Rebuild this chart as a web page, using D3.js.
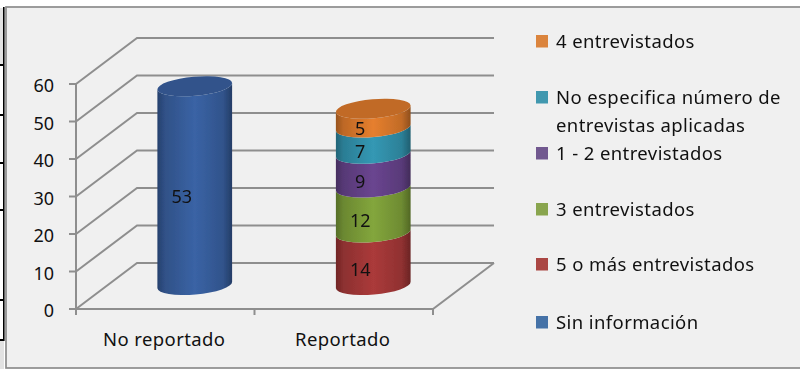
<!DOCTYPE html>
<html lang="es">
<head>
<meta charset="utf-8">
<style>
  html, body { margin: 0; padding: 0; background: #fff; }
  svg { display: block; }
  text { font-family: "Noto Sans", sans-serif; fill: #111; }
  .spaced { letter-spacing: 0.4px; }
</style>
</head>
<body>
<svg id="chart" width="800" height="369"></svg>
<script src="https://cdn.jsdelivr.net/npm/d3@7/dist/d3.min.js"></script>
<script>
// Interview counts reported per category, stacked bottom to top
const categories = ["No reportado", "Reportado"];
const seriesNames = ["Sin información", "5 o más entrevistados", "3 entrevistados",
                     "1 - 2 entrevistados", "No especifica número de\nentrevistas aplicadas", "4 entrevistados"];
const sinInformacion = [53, 0];
const cincoOMas = [0, 14];
const tres = [0, 12];
const unoDos = [0, 9];
const noEspecifica = [0, 7];
const cuatro = [0, 5];
const yTicks = [0, 10, 20, 30, 40, 50, 60];
const seriesColors = ["#4572a7", "#aa4643", "#89a54e", "#71588f", "#4198af", "#db843d"];
const sideColors = ["#3a63a5", "#ab3a3a", "#83a63c", "#6a4590", "#3498b4", "#e67f2e"];
const legendRows = [316, 258, 203, 147, 91, 35];
const ruleMarks = [65, 115, 163, 210, 300, 340];

const allSeries = [sinInformacion, cincoOMas, tres, unoDos, noEspecifica, cuatro];

const svg = d3.select("#chart");
const defs = svg.append("defs");

// Ruled strip at the far left
svg.append("rect").attr("x", 0).attr("y", 8).attr("width", 3).attr("height", 57).attr("fill", "#e2e2e2");
svg.append("rect").attr("x", 0).attr("y", 341).attr("width", 4).attr("height", 28).attr("fill", "#e2e2e2");
svg.append("rect").attr("x", 3).attr("y", 7).attr("width", 1.6).attr("height", 334).attr("fill", "#000");
ruleMarks.forEach(m => {
  svg.append("rect").attr("x", 0).attr("y", m - 1).attr("width", 4).attr("height", 2).attr("fill", "#000");
});

// Plot frame
svg.append("rect").attr("x", 6).attr("y", 7).attr("width", 800).attr("height", 361)
  .attr("fill", "#f0f0f0").attr("stroke", "#8c8c8c").attr("stroke-width", 1.7);

const x = d3.scaleBand().domain(categories).range([76, 433]);
const y = d3.scaleLinear().domain([0, 60]).range([309, 84]);

// Oblique projection of the chart box
const depthX = 61, depthY = -46;

const grid = svg.append("g").attr("fill", "none").attr("stroke", "#8e8e8e").attr("stroke-width", 2);
yTicks.forEach(t => {
  const y0 = y(t);
  grid.append("path").attr("d", d3.line()([
    [x.range()[0], y0],
    [x.range()[0] + depthX, y0 + depthY],
    [x.range()[1] + depthX, y0 + depthY]
  ]));
});
// Floor edges and the value axis
grid.append("path").attr("d", d3.line()([
  [x.range()[0], y(60)], [x.range()[0], y(0)], [x.range()[1], y(0)],
  [x.range()[1] + depthX, y(0) + depthY]
]));

// Axis ticks and labels
const axisG = svg.append("g");
yTicks.forEach(t => {
  axisG.append("line").attr("x1", 69).attr("x2", 76).attr("y1", y(t)).attr("y2", y(t))
    .attr("stroke", "#8e8e8e").attr("stroke-width", 2);
  axisG.append("text").attr("x", 54).attr("y", y(t) + 8)
    .attr("text-anchor", "end").attr("font-size", 18).text(t);
});
[...categories.map(c => x(c)), x.range()[1]].forEach(px => {
  axisG.append("line").attr("x1", px).attr("x2", px).attr("y1", 309).attr("y2", 315)
    .attr("stroke", "#8e8e8e").attr("stroke-width", 2);
});
categories.forEach(c => {
  axisG.append("text").attr("class", "spaced").attr("x", x(c) + x.bandwidth() / 2 - 1).attr("y", 346)
    .attr("text-anchor", "middle").attr("font-size", 18.5).text(c);
});

// Shaded side gradient for each series colour
sideColors.forEach((col, i) => {
  const g = defs.append("linearGradient").attr("id", "side" + i)
    .attr("x1", 0).attr("x2", 1).attr("y1", 0).attr("y2", 0);
  const base = d3.color(col);
  const stops = [[0, 0.66], [0.1, 0.82], [0.5, 1], [0.88, 0.84], [1, 0.62]];
  stops.forEach(([o, f]) => {
    g.append("stop").attr("offset", o)
      .attr("stop-color", d3.rgb(base.r * f, base.g * f, base.b * f).formatHex());
  });
});

// The edges of the cylinders are slightly soft
defs.append("filter").attr("id", "soft").attr("x", "-5%").attr("y", "-5%")
  .attr("width", "110%").attr("height", "110%")
  .append("feGaussianBlur").attr("stdDeviation", 0.7);

// Cylinder geometry: ellipses are tilted a little to follow the projection
const rx = 37.5, ry = 9.5, tiltDeg = -5, tilt = tiltDeg * Math.PI / 180;
const ex = Math.cos(tilt) * rx, ey = Math.sin(tilt) * rx;

function segmentPath(cx, top, bottom) {
  const a = `${cx - ex},${bottom - ey}`, b = `${cx + ex},${bottom + ey}`;
  const c = `${cx + ex},${top + ey}`, d = `${cx - ex},${top - ey}`;
  return `M${d}L${a}A${rx},${ry} ${tiltDeg} 0 0 ${b}L${c}A${rx},${ry} ${tiltDeg} 0 1 ${d}Z`;
}

const bars = svg.append("g").attr("filter", "url(#soft)");
const labels = svg.append("g");
categories.forEach((cat, ci) => {
  const cx = x(cat) + x.bandwidth() / 2 + depthX / 2 - 1;
  const offset = depthY / 2 - 1;
  let total = 0, topIndex = 0;
  allSeries.forEach((vals, si) => {
    const v = vals[ci];
    if (!v) return;
    const bottom = y(total) + offset;
    const top = y(total + v) + offset;
    bars.append("path").attr("d", segmentPath(cx, top, bottom)).attr("fill", `url(#side${si})`);
    labels.append("text").attr("x", cx - 13).attr("y", (top + bottom) / 2 + 17)
      .attr("text-anchor", "middle").attr("font-size", 18).text(v);
    total += v;
    topIndex = si;
  });
  // Cap of the stack
  const capY = y(total) + offset;
  const capBase = d3.color(sideColors[topIndex]);
  bars.append("ellipse").attr("cx", cx).attr("cy", capY).attr("rx", rx).attr("ry", ry)
    .attr("transform", `rotate(${tiltDeg} ${cx} ${capY})`)
    .attr("fill", d3.rgb(capBase.r * 0.84, capBase.g * 0.84, capBase.b * 0.84).formatHex());
});

// Legend
const legend = svg.append("g");
seriesNames.forEach((name, i) => {
  const top = legendRows[i];
  legend.append("rect").attr("x", 536).attr("y", top).attr("width", 12).attr("height", 12.5)
    .attr("fill", seriesColors[i]);
  name.split("\n").forEach((line, k) => {
    legend.append("text").attr("class", "spaced").attr("x", 556).attr("y", top + 13 + k * 28)
      .attr("font-size", 18.5).text(line);
  });
});
</script>
</body>
</html>
